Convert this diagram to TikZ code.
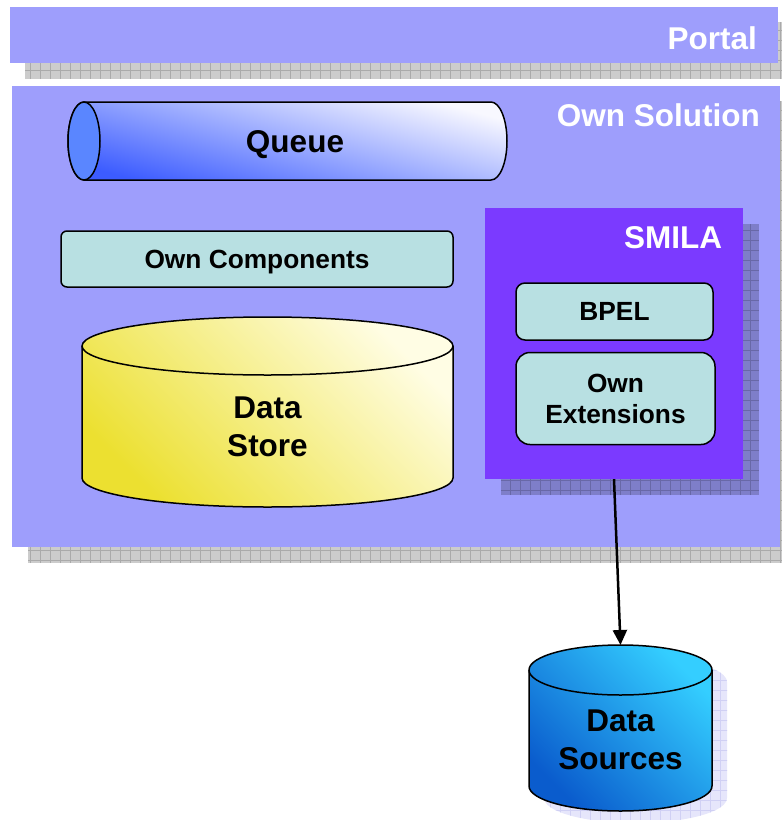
\documentclass[tikz,border=0pt]{standalone}
\usepackage{fontspec}
\setmainfont{Liberation Sans}
\usetikzlibrary{arrows.meta,positioning}
\tikzset{>={Triangle[length=15pt,width=14pt]}}

\definecolor{bandblue}{RGB}{158,158,252}
\definecolor{smilapurple}{RGB}{123,58,255}
\definecolor{boxcyan}{RGB}{184,224,226}
\definecolor{qdark}{RGB}{60,92,255}
\definecolor{qlight}{RGB}{248,248,255}
\definecolor{qface}{RGB}{90,134,255}
\definecolor{storedark}{RGB}{236,224,48}
\definecolor{storelight}{RGB}{255,253,228}
\definecolor{srcdark}{RGB}{10,92,205}
\definecolor{srclight}{RGB}{52,206,255}
\definecolor{lavshadow}{RGB}{230,230,251}
\definecolor{lavline}{RGB}{208,208,244}

\tikzset{
  bigtext/.style={font=\fontsize{31.5}{38}\selectfont\bfseries},
  smalltext/.style={font=\fontsize{26.3}{31}\selectfont\bfseries},
  bandtitle/.style={bigtext, text=white, anchor=east, inner sep=0pt},
  compbox/.style={draw, line width=1.5pt, fill=boxcyan, smalltext, align=center, inner sep=0pt},
  gridshadow/.style={fill=black, fill opacity=0.2},
  gridlines/.style={draw=black, draw opacity=0.17, line width=0.8pt},
  outline/.style={draw, line width=1.5pt}
}

\begin{document}
\begin{tikzpicture}[x=1pt,y=-1pt]
  \useasboundingbox (0,0) rectangle (782,820);

  % portal band
  \fill[gridshadow] (25,22) rectangle (782,79);
  \draw[gridlines,step=10pt] (25,22) grid (782,79);
  \fill[bandblue] (10,7) rectangle (778,63);
  \node[bandtitle] (portal) at (757,38) {Portal};

  % own solution band
  \fill[gridshadow] (28,101) rectangle (782,563);
  \draw[gridlines,step=10pt] (28,101) grid (782,563);
  \fill[bandblue] (12,86) rectangle (780,547);
  \node[bandtitle] (ownsol) at (760,115) {Own Solution};

  % queue
  \path[outline, shading=axis, top color=qlight, bottom color=qdark, shading angle=-15]
    (84,102) -- (491,102) arc[start angle=-90, end angle=90, x radius=16, y radius=39]
    -- (84,180) arc[start angle=90, end angle=270, x radius=16, y radius=39] -- cycle;
  \filldraw[outline, fill=qface] (84,141) ellipse [x radius=16, y radius=39];
  \node[bigtext, text depth=0pt] (queue) at (295,141) {Queue};

  % own components
  \node[compbox, text depth=0pt, rounded corners=6pt, minimum width=392pt, minimum height=56pt] (owncomp) at (257,259) {Own Components};

  % data store
  \path[outline, shading=axis, top color=storelight, bottom color=storedark, shading angle=-45]
    (82,346) -- (82,478) arc[start angle=180, end angle=0, x radius=185.5, y radius=29]
    -- (453,346) arc[start angle=0, end angle=-180, x radius=185.5, y radius=29] -- cycle;
  \draw[outline] (82,346) arc[start angle=180, end angle=0, x radius=185.5, y radius=29];
  \node[bigtext, align=center] (store) at (267.5,427) {Data\\Store};

  % smila
  \fill[gridshadow] (501,224) rectangle (759,495);
  \draw[gridlines,step=10pt] (501,224) grid (759,495);
  \node[fill=smilapurple, minimum width=258pt, minimum height=271pt, inner sep=0pt] (smila) at (614,343.5) {};
  \node[bandtitle] (smilatitle) at ([xshift=-21pt,yshift=-30pt]smila.north east) {SMILA};
  \node[compbox, rounded corners=9pt, minimum width=197pt, minimum height=57pt] (bpel) at (614.5,311.5) {BPEL};
  \node[compbox, rounded corners=14pt, minimum width=199pt, minimum height=92pt, below=11pt of bpel.south, anchor=north, xshift=1pt] (ownext) {Own\\Extensions};

  % data sources
  \begin{scope}
    \clip (544,682) -- (544,798) arc[start angle=180, end angle=0, x radius=91.5, y radius=25]
      -- (727,682) arc[start angle=0, end angle=-180, x radius=91.5, y radius=25] -- cycle;
    \fill[lavshadow] (540,650) rectangle (782,820);
    \draw[draw=lavline, line width=0.8pt, step=10pt] (540,650) grid (782,820);
  \end{scope}
  \path[outline, shading=axis, top color=srclight, bottom color=srcdark, shading angle=-45]
    (529,670) -- (529,786) arc[start angle=180, end angle=0, x radius=91.5, y radius=25]
    -- (712,670) arc[start angle=0, end angle=-180, x radius=91.5, y radius=25] -- cycle;
  \draw[outline] (529,670) arc[start angle=180, end angle=0, x radius=91.5, y radius=25];
  \coordinate (srctop) at (620.5,645);
  \node[bigtext, align=center] (sources) at (620.5,740) {Data\\Sources};

  \draw[->, line width=2.5pt] (smila.south) -- (srctop);
\end{tikzpicture}
\end{document}
